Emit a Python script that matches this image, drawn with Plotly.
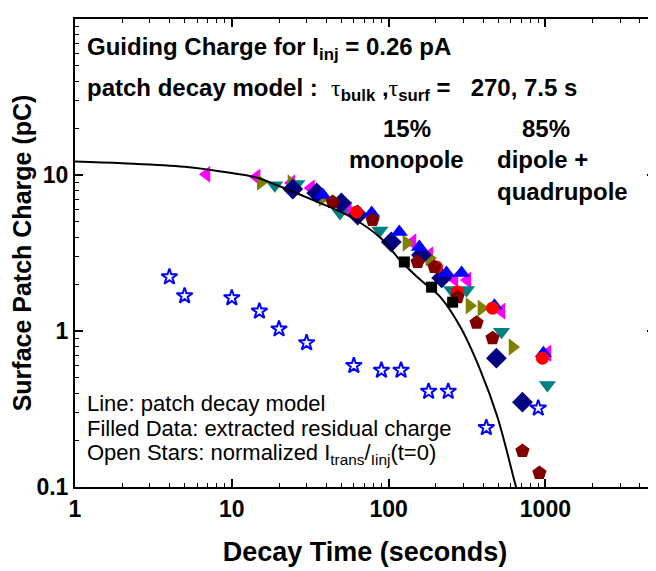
"""
Surface patch charge decay chart.

Guiding charge vs. decay time on log-log axes, with the patch decay
model line, filled markers for the extracted residual charge and open
stars for the normalized transmitted current.
"""

import plotly.graph_objects as go

# Patch decay model line
model_t = [1, 2, 5, 10, 14, 20, 33, 57, 89, 120, 160, 214, 287, 385, 495, 625, 650]
model_q = [12.2, 11.9, 11.3, 10.3, 9.7, 8.5, 6.9, 5.4, 3.95, 2.8, 2.12, 1.65, 1.06, 0.56, 0.28, 0.116, 0.1]

# Open stars: normalized I_trans / I_inj (t=0)
star_t = [4, 5, 10, 15, 20, 30, 60, 90, 120, 180, 240, 420, 900]
star_q = [2.22, 1.68, 1.63, 1.34, 1.03, 0.84, 0.6, 0.56, 0.56, 0.41, 0.41, 0.24, 0.32]

# Filled data: extracted residual charge, one list per run
magenta_t = [6.9, 14.4, 24, 32, 55, 142, 182, 263, 318, 525, 1030]
magenta_q = [10.1, 9.7, 8.9, 8.26, 5.97, 3.72, 3.07, 2.15, 2.12, 1.34, 0.72]

olive_t = [15.3, 24, 38, 130, 182, 328, 391, 617]
olive_q = [9.0, 8.9, 7.12, 3.66, 2.94, 1.45, 1.40, 0.79]

teal_t = [18.8, 26, 49, 88, 252, 314, 525, 1030]
teal_q = [8.6, 8.75, 5.71, 4.4, 1.83, 1.83, 0.99, 0.45]

navy_t = [24.5, 34.8, 50, 63.5, 104, 162, 218, 487, 714]
navy_q = [8.13, 7.67, 6.62, 5.54, 3.72, 3.07, 2.19, 0.67, 0.35]

blue_t = [38, 78, 117, 157, 234, 292, 473, 971]
blue_q = [7.45, 5.71, 4.31, 3.45, 2.35, 2.35, 1.45, 0.72]

red_t = [62.5, 202, 275, 460, 957]
red_q = [5.79, 2.57, 1.78, 1.40, 0.67]

maroon_t = [44, 79, 153, 196, 275, 364, 460, 714, 916]
maroon_q = [6.71, 5.15, 2.77, 2.57, 1.65, 1.13, 0.90, 0.17, 0.123]

black_t = [126, 188, 256]
black_q = [2.77, 1.91, 1.53]

FONT = "Liberation Sans, Arial, sans-serif"

fig = go.Figure()

# filled markers
runs = [
    (magenta_t, magenta_q, "triangle-left", "#FF00FF", 15),
    (olive_t, olive_q, "triangle-right", "#808000", 15),
    (teal_t, teal_q, "triangle-down", "#008080", 15),
    (navy_t, navy_q, "diamond", "#000080", 16),
    (blue_t, blue_q, "triangle-up", "#0000FF", 15),
    (red_t, red_q, "circle", "#FF0000", 13),
    (maroon_t, maroon_q, "pentagon", "#800000", 15),
    (black_t, black_q, "square", "#000000", 11),
]
for t, q, symbol, color, size in runs:
    fig.add_trace(go.Scatter(x=t, y=q, mode="markers",
                             marker=dict(symbol=symbol, color=color, size=size,
                                         line=dict(width=0))))

# open stars
fig.add_trace(go.Scatter(x=star_t, y=star_q, mode="markers",
                         marker=dict(symbol="star-open", color="#0000FF", size=12,
                                     line=dict(width=2, color="#0000FF"))))

# model line goes on top of the markers
fig.add_trace(go.Scatter(x=model_t, y=model_q, mode="lines",
                         line=dict(color="black", width=2, shape="spline")))

axis_common = dict(
    type="log", showline=True, linecolor="black", linewidth=2, automargin=False,
    mirror="ticks", ticks="inside", ticklen=8, tickwidth=1.5, tickcolor="black",
    showgrid=False, zeroline=False, dtick=1, exponentformat="none",
    tickfont=dict(family=FONT, size=23, color="black", weight="bold"),
    minor=dict(ticks="inside", ticklen=4, tickwidth=1, tickcolor="black",
               dtick="D1", showgrid=False),
)

fig.update_xaxes(range=[0, 3.699], **axis_common,
                 title=dict(text="Decay Time (seconds)", standoff=22,
                            font=dict(family=FONT, size=27, color="black", weight="bold")))
fig.update_yaxes(range=[-1, 2], **axis_common,
                 title=dict(text="Surface Patch Charge (pC)", standoff=6,
                            font=dict(family=FONT, size=25, color="black", weight="bold")))

# text blocks
bold = dict(family=FONT, size=24, color="black", weight="bold")
plain = dict(family=FONT, size=22, color="black")
tau = '<span style="font-family:Liberation Serif;font-weight:normal">τ</span>'

notes = [
    (0.018, 0.936, "left", "Guiding Charge for I<sub>inj</sub> = 0.26 pA", bold),
    (0.018, 0.850, "left",
     "patch decay model :&nbsp; " + tau + "<sub>bulk</sub> ," + tau
     + "<sub>surf</sub> =&nbsp;&nbsp; 270, 7.5 s", bold),
    (0.572, 0.767, "center", "15%", bold),
    (0.572, 0.699, "center", "monopole", bold),
    (0.812, 0.767, "center", "85%", bold),
    (0.724, 0.699, "left", "dipole +", bold),
    (0.724, 0.632, "left", "quadrupole", bold),
    (0.018, 0.179, "left", "Line: patch decay model", plain),
    (0.018, 0.126, "left", "Filled Data: extracted residual charge", plain),
    (0.018, 0.0705, "left", "Open Stars: normalized I<sub>trans</sub>/<sub>Iinj</sub>(t=0)", plain),
]
for x, y, anchor, text, font in notes:
    fig.add_annotation(x=x, y=y, xref="paper", yref="paper", text=text,
                       showarrow=False, xanchor=anchor, yanchor="middle", font=font)

# the page body adds 8px, so the margins are shifted to keep the frame in place
fig.update_layout(
    width=656, height=571,
    margin=dict(l=67, r=9, t=11, b=92),
    paper_bgcolor="white", plot_bgcolor="white",
    showlegend=False,
)

fig.write_html("out.html")
